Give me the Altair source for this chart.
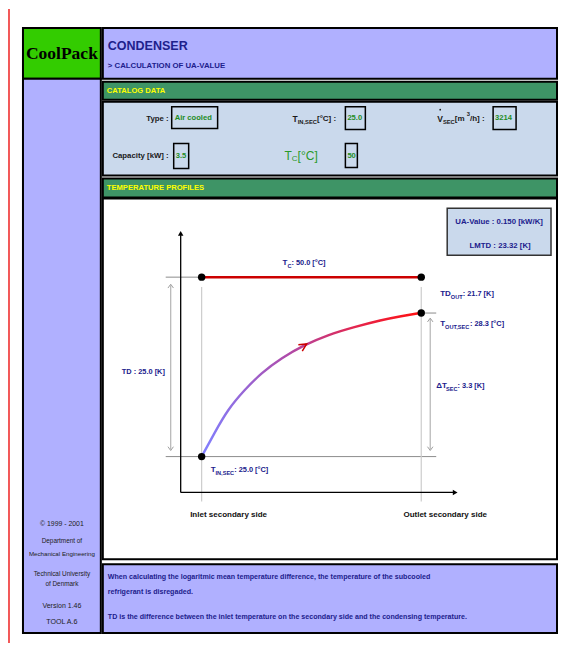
import altair as alt
import pandas as pd

# ---------------- data ----------------
# secondary-side temperature profile (schematic, picture coordinates)
curve_x = [202, 215, 228, 245, 262, 282, 305, 328, 355, 382, 402, 421]
curve_y = [457, 433, 410, 390, 373, 358, 345, 335, 327, 320, 316, 313]

# state points: T_C at inlet/outlet, T_OUT,SEC, T_IN,SEC
dot_x = [202, 422, 422, 202]
dot_y = [277, 277, 313, 457]

# catalog values
cat_type = "Air cooled"
cat_tin = "25.0"
cat_vsec = "3214"
cat_capacity = "3.5"
cat_tc = "50"

# results
res_tc = "50.0"
res_td = "25.0"
res_tdout = "21.7"
res_tout = "28.3"
res_dtsec = "3.3"
res_tin = "25.0"
res_ua = "0.150"
res_lmtd = "23.32"

# ---------------- layout ----------------
LAV = "#b0b0ff"
GRN = "#3e9466"
LBLUE = "#cad9ec"
NAVY = "#20208c"
GTXT = "#1f8c1f"
DARK = "#1a1a1a"
YEL = "#ffff00"

panels = pd.DataFrame({
    "x":  [23, 23, 103, 103, 103, 103, 103, 103, 448],
    "x2": [101, 101, 558, 558, 558, 558, 558, 558, 552],
    "y":  [27, 78, 27, 81, 101, 178, 198, 565, 208],
    "y2": [78, 634, 78, 99, 175, 197, 560, 634, 255],
    "fill": ["#33cc00", LAV, LAV, GRN, LBLUE, GRN, "#ffffff", LAV, LBLUE],
    "stroke": ["#000000"] * 8 + ["#333333"],
    "sw": [2, 2, 2, 2, 2, 2, 2, 2, 1.5],
})

boxes = pd.DataFrame({
    "x":  [172, 346, 494, 174, 346],
    "x2": [218, 366, 517, 189, 358],
    "y":  [106, 106, 106, 143, 143],
    "y2": [128, 129, 129, 168, 167],
})

rules = pd.DataFrame({
    "x":  [9, 166, 166, 422, 202, 422, 171, 431, 181, 181, 202],
    "x2": [9, 202, 437, 437, 202, 422, 171, 431, 181, 455, 422],
    "y":  [8, 277, 457, 313, 287, 287, 285, 319, 235, 493, 277],
    "y2": [644, 277, 457, 313, 502, 502, 450, 450, 493, 493, 277],
    "color": ["#ee2222", "#8c8c8c", "#8c8c8c", "#8c8c8c", "#cccccc", "#cccccc",
              "#b4b4b4", "#b4b4b4", "#000000", "#000000", "#cc0000"],
    "w": [1.5, 1, 1, 1, 1.2, 1.2, 1.2, 1.2, 1.3, 1.3, 2.5],
})

curve = pd.DataFrame({"x": curve_x, "y": curve_y, "o": list(range(len(curve_x)))})
dots = pd.DataFrame({"x": dot_x, "y": dot_y})

SANS = "Liberation Sans, Arial, sans-serif"
SERIF = "Liberation Serif, Times New Roman, serif"

# approximate Arial-bold advance widths (per 1000 em) for placing sub/superscripts
_W = {" ": 278, ",": 278, "-": 333, ".": 278, "/": 278, ":": 333, "[": 333, "]": 333,
      "°": 400, "Δ": 612}
for ch in "0123456789":
    _W[ch] = 556
_W.update(dict(zip("ABCDEFGHIJKLMNOPQRSTUVWXYZ",
                   [722, 722, 722, 722, 667, 611, 778, 722, 278, 556, 722, 611, 833,
                    722, 778, 667, 778, 722, 667, 611, 722, 667, 944, 667, 667, 611])))
_W.update(dict(zip("abcdefghijklmnopqrstuvwxyz",
                   [556, 611, 556, 611, 556, 333, 611, 611, 278, 278, 556, 278, 889,
                    611, 611, 611, 611, 389, 556, 333, 611, 556, 778, 556, 556, 500])))


def tw(s, size):
    return sum(_W.get(c, 556) for c in s) * size / 1000.0


texts = []


def put(text, x, y, size, color, style):
    texts.append((text, x, y, size, color, style))


def seq(parts, x0, y, color, style):
    x = x0
    for text, size, dy in parts:
        put(text, x, y + dy, size, color, style)
        x += tw(text, size)


# header
put("CoolPack", 62, 53, 17.5, "#000000", "logo")
put("CONDENSER", 108, 45, 12.5, NAVY, "bl")
put("> CALCULATION OF UA-VALUE", 108, 65, 7.8, NAVY, "bl")
put("CATALOG DATA", 107, 90, 7.6, YEL, "bl")
put("TEMPERATURE PROFILES", 107, 188, 7.6, YEL, "bl")

# catalog
put("Type :", 169, 118, 7.8, DARK, "br")
put(cat_type, 175, 117, 7.6, GTXT, "bl")
seq([("T", 8.5, 0), ("IN,SEC", 5.8, 3), (" [°C] :", 8, 0)], 293, 118, DARK, "bl")
put(cat_tin, 348, 117, 7.6, GTXT, "bl")
seq([("V", 8.5, 0), ("SEC", 5.8, 3), (" [m", 8, 0), ("3", 5.8, -5), ("/h] :", 8, 0)],
    438, 118, DARK, "bl")
put(cat_vsec, 496, 117, 7.6, GTXT, "bl")
put("Capacity [kW] :", 169, 155, 7.8, DARK, "br")
put(cat_capacity, 176, 155, 7.6, GTXT, "bl")
seq([("T", 12, 0), ("C", 8, 3), ("[°C]", 12, 0)], 285, 155, "#2a9a2a", "nl")
put(cat_tc, 348, 155, 7.6, GTXT, "bl")

# results box
put("UA-Value :  " + res_ua + " [kW/K]", 500, 222, 7.8, NAVY, "bc")
put("LMTD :  " + res_lmtd + " [K]", 501, 246, 7.8, NAVY, "bc")

# plot labels
LS, SS = 7.4, 5.6
seq([("T", 8, 0), ("C", SS, 3), (" :  " + res_tc + " [°C]", LS, 0)], 283, 263, NAVY, "bl")
put("TD :  " + res_td + " [K]", 122, 372, LS, NAVY, "bl")
seq([("TD", 8, 0), ("OUT", SS, 3), (" :  " + res_tdout + " [K]", LS, 0)], 441, 294, NAVY, "bl")
seq([("T", 8, 0), ("OUT,SEC", SS, 3), (" :  " + res_tout + " [°C]", LS, 0)], 441, 324, NAVY, "bl")
seq([("ΔT", 8, 0), ("SEC", SS, 3), (" :  " + res_dtsec + " [K]", LS, 0)], 437, 386, NAVY, "bl")
seq([("T", 8, 0), ("IN,SEC", SS, 3), (" :  " + res_tin + " [°C]", LS, 0)], 211, 470, NAVY, "bl")
put("Inlet secondary side", 229, 516, 8, "#111111", "bc")
put("Outlet secondary side", 446, 516, 8, "#111111", "bc")

# sidebar
put("© 1999 - 2001", 62, 525, 6.9, "#222222", "nc")
put("Department of", 62, 542, 6.4, "#222222", "nc")
put("Mechanical Engineering", 62, 555, 6.2, "#222222", "nc")
put("Technical University", 62, 575, 6.4, "#222222", "nc")
put("of  Denmark", 62, 585, 6.4, "#222222", "nc")
put("Version 1.46", 62, 607, 7.0, "#222222", "nc")
put("TOOL A.6", 62, 623, 7.1, "#222222", "nc")

# notes
put("When calculating the logaritmic mean temperature difference, the temperature of the subcooled",
    108, 578, 7.1, NAVY, "bl")
put("refrigerant is disregaded.", 108, 593, 7.1, NAVY, "bl")
put("TD is the difference between the inlet temperature on the secondary side and the condensing temperature.",
    108, 618, 7.1, NAVY, "bl")

tdf = pd.DataFrame(texts, columns=["text", "x", "y", "size", "color", "style"])

styles = {
    "logo": dict(font=SERIF, fontWeight="bold", align="center"),
    "bl": dict(font=SANS, fontWeight="bold", align="left"),
    "br": dict(font=SANS, fontWeight="bold", align="right"),
    "bc": dict(font=SANS, fontWeight="bold", align="center"),
    "nc": dict(font=SANS, fontWeight="normal", align="center"),
    "nl": dict(font=SANS, fontWeight="normal", align="left"),
}

XS = alt.Scale(domain=[8, 558], nice=False, zero=False)
YS = alt.Scale(domain=[8, 644], nice=False, zero=False, reverse=True)


def X(f="x"):
    return alt.X(f + ":Q", scale=XS, axis=None)


def Y(f="y"):
    return alt.Y(f + ":Q", scale=YS, axis=None)


layers = []

layers.append(alt.Chart(panels).mark_rect().encode(
    x=X(), x2="x2:Q", y=Y(), y2="y2:Q",
    fill=alt.Fill("fill:N", scale=None),
    stroke=alt.Stroke("stroke:N", scale=None),
    strokeWidth=alt.StrokeWidth("sw:Q", scale=None),
))

layers.append(alt.Chart(boxes).mark_rect(fillOpacity=0, stroke="#000000", strokeWidth=1.5).encode(
    x=X(), x2="x2:Q", y=Y(), y2="y2:Q",
))

layers.append(alt.Chart(rules).mark_rule().encode(
    x=X(), x2="x2:Q", y=Y(), y2="y2:Q",
    color=alt.Color("color:N", scale=None),
    strokeWidth=alt.StrokeWidth("w:Q", scale=None),
))

grad = alt.LinearGradient(
    gradient="linear",
    stops=[alt.GradientStop(offset=0, color="#8080ff"),
           alt.GradientStop(offset=0.4, color="#b04aa8"),
           alt.GradientStop(offset=0.72, color="#e6244a"),
           alt.GradientStop(offset=1, color="#ff1010")],
    x1=0, x2=1, y1=0, y2=0,
)
layers.append(alt.Chart(curve).mark_line(stroke=grad, strokeWidth=2.4, strokeCap="round",
                                         interpolate="basis").encode(
    x=X(), y=Y(), order="o:Q",
))

# arrow heads
axis_heads = pd.DataFrame({"x": [181, 456], "y": [233, 493], "shape": ["triangle-up", "triangle-right"]})
layers.append(alt.Chart(axis_heads).mark_point(filled=True, size=30, color="#000000", opacity=1).encode(
    x=X(), y=Y(), shape=alt.Shape("shape:N", scale=None),
))
gray_heads = pd.DataFrame({
    "x": [171, 171, 431, 431], "y": [286, 449, 320, 449],
    "shape": ["M-1,0.7L0,-0.7L1,0.7", "M-1,-0.7L0,0.7L1,-0.7",
              "M-1,0.7L0,-0.7L1,0.7", "M-1,-0.7L0,0.7L1,-0.7"],
})
layers.append(alt.Chart(gray_heads).mark_point(filled=False, size=30, color="#a0a0a0",
                                               strokeWidth=1, opacity=1).encode(
    x=X(), y=Y(), shape=alt.Shape("shape:N", scale=None),
))
flow_head = pd.DataFrame({"x": [304], "y": [346]})
layers.append(alt.Chart(flow_head).mark_point(shape="M-1,-1L1,0L-1,1", filled=False, size=55,
                                              color="#cc0000", strokeWidth=1.5, angle=328,
                                              opacity=1).encode(
    x=X(), y=Y(),
))

# state points and the flow-rate dot over the V
layers.append(alt.Chart(dots).mark_point(shape="circle", filled=True, size=55, color="#000000",
                                         opacity=1).encode(
    x=X(), y=Y(),
))
vdot = pd.DataFrame({"x": [441], "y": [109]})
layers.append(alt.Chart(vdot).mark_point(shape="circle", filled=True, size=3, color=DARK,
                                         opacity=1).encode(
    x=X(), y=Y(),
))

for key, st in styles.items():
    sub = tdf[tdf["style"] == key]
    if len(sub) == 0:
        continue
    layers.append(alt.Chart(sub).mark_text(baseline="middle", **st).encode(
        x=X(), y=Y(), text="text:N",
        size=alt.Size("size:Q", scale=None),
        color=alt.Color("color:N", scale=None),
    ))

chart = alt.layer(*layers).properties(
    width=550, height=636,
    autosize=alt.AutoSizeParams(type="fit", contains="padding"),
    padding=0,
).configure_view(stroke=None)

chart.save("out.html", embed_options={"renderer": "svg", "actions": False})
